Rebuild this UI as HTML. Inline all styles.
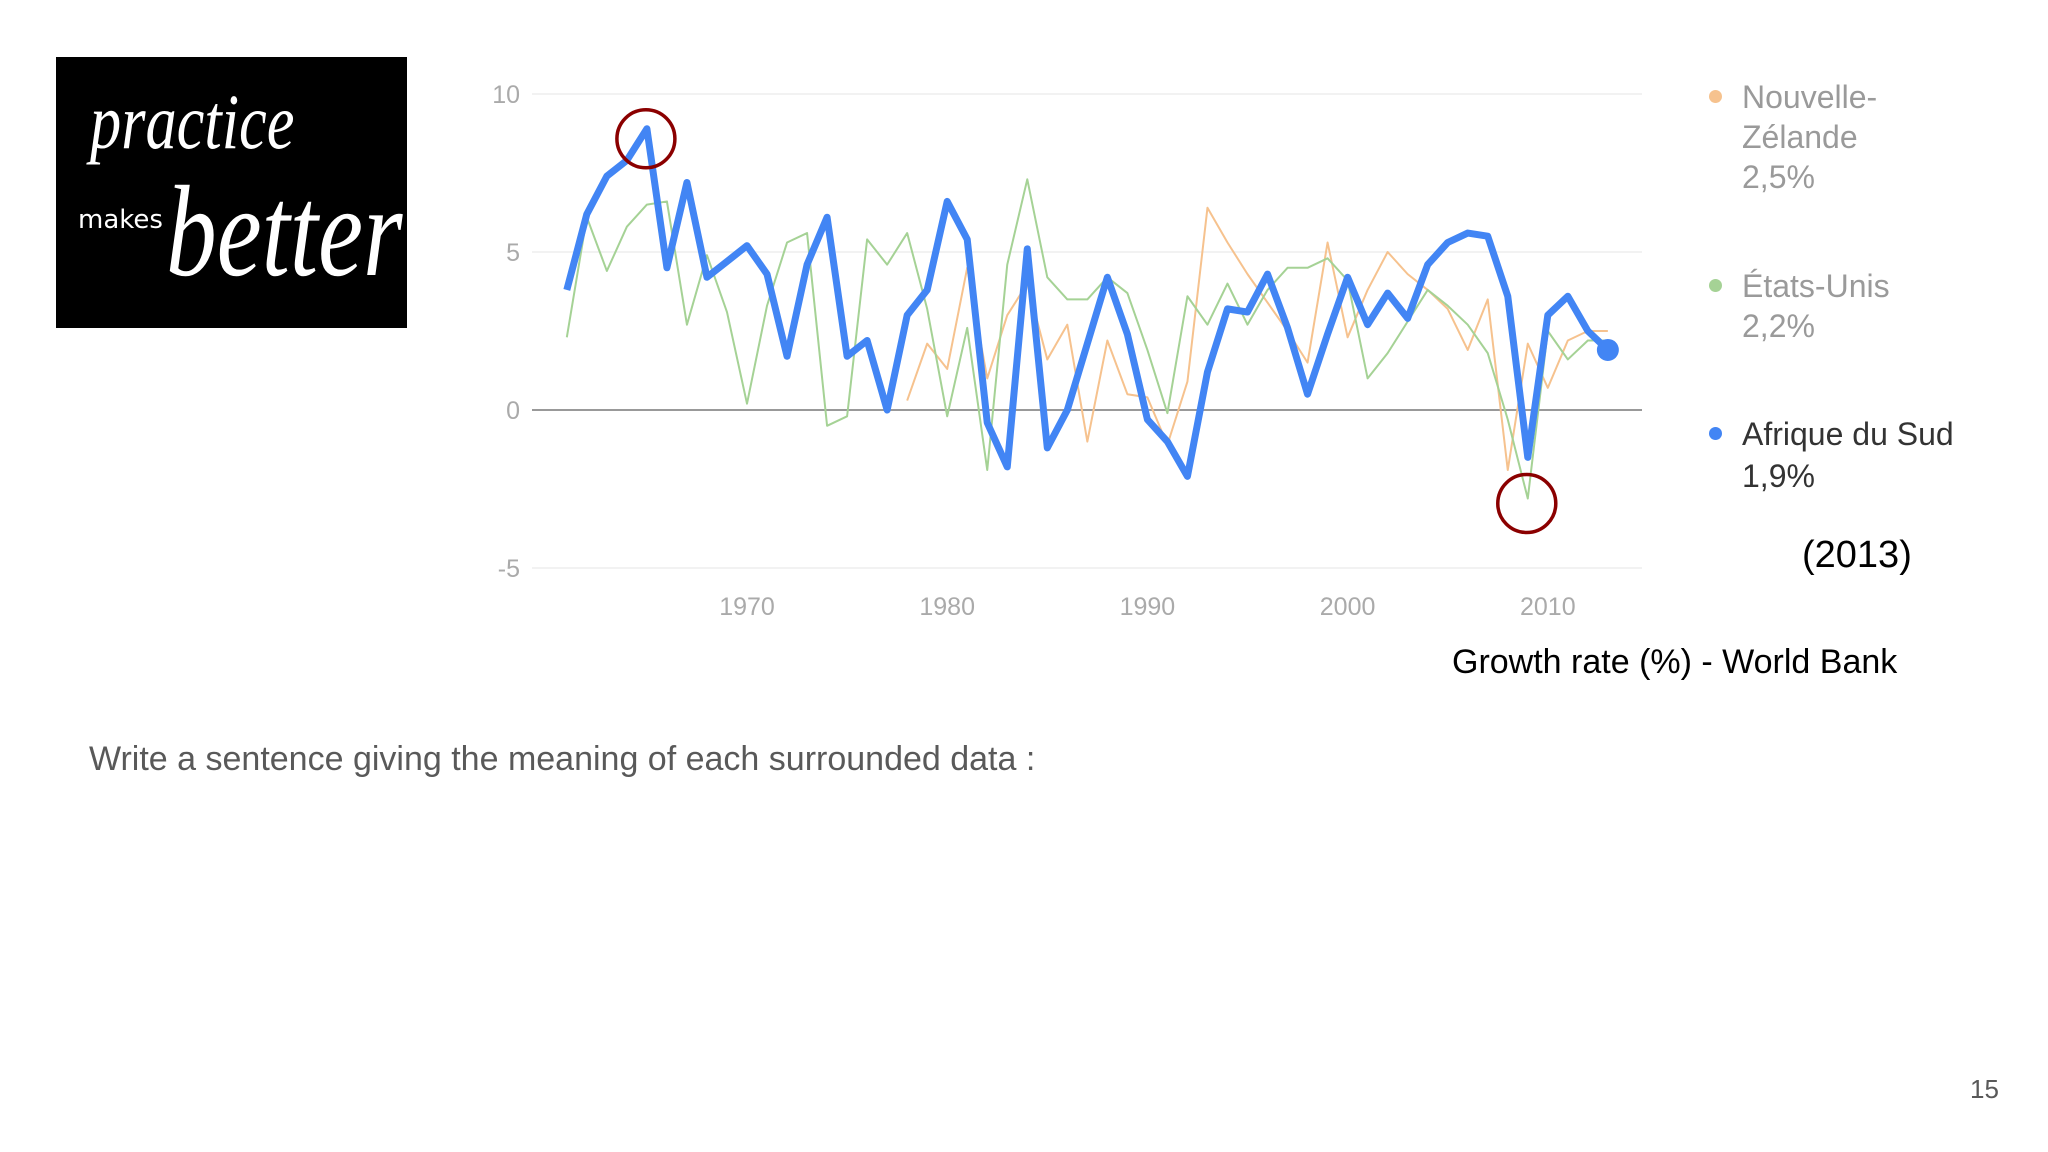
<!DOCTYPE html>
<html><head><meta charset="utf-8"><style>
body{margin:0;width:2048px;height:1152px;background:#fff;position:relative;overflow:hidden;font-family:"Liberation Sans",sans-serif}
.abs{position:absolute;white-space:nowrap}
</style></head><body>
<div class="abs" style="left:56px;top:57px;width:351px;height:271px;background:#000">
 <div class="abs" style="left:34px;top:20px;color:#fff;font:italic 78px 'Liberation Serif',serif;transform:scaleX(0.8);transform-origin:left">practice</div>
 <div class="abs" style="left:22px;top:148px;color:#fff;font:26px 'DejaVu Sans',sans-serif">makes</div>
 <div class="abs" style="left:110px;top:100px;color:#fff;font:italic 130px 'Liberation Serif',serif;transform:scaleX(0.78);transform-origin:left">better</div>
</div>
<svg class="abs" style="left:0;top:0" width="2048" height="1152" id="chart"></svg>
<div class="abs" style="left:1742px;top:77px;font-size:32px;line-height:40px;color:#9a9a9a">Nouvelle-<br>Zélande<br>2,5%</div>
<div class="abs" style="left:1742px;top:266px;font-size:32px;line-height:40px;color:#9a9a9a">États-Unis<br>2,2%</div>
<div class="abs" style="left:1742px;top:413px;font-size:32px;line-height:42px;color:#333">Afrique du Sud<br>1,9%</div>
<div class="abs" style="left:1709px;top:90px;width:13px;height:13px;border-radius:50%;background:#f6c28e"></div>
<div class="abs" style="left:1709px;top:279px;width:13px;height:13px;border-radius:50%;background:#a5d295"></div>
<div class="abs" style="left:1709px;top:427px;width:13px;height:13px;border-radius:50%;background:#4285f4"></div>
<div class="abs" style="left:1802px;top:534px;font-size:38px;color:#000">(2013)</div>
<div class="abs" style="left:1452px;top:643px;font-size:34px;color:#000">Growth rate (%) - World Bank</div>
<div class="abs" style="left:89px;top:740px;font-size:34px;color:#595959">Write a sentence giving the meaning of each surrounded data :</div>
<div class="abs" style="left:1970px;top:1074px;font-size:26px;color:#595959">15</div>
<script>
const years=[];for(let y=1961;y<=2013;y++)years.push(y);
const southAfrica=[3.8,6.2,7.4,7.9,8.9,4.5,7.2,4.2,4.7,5.2,4.3,1.7,4.6,6.1,1.7,2.2,0.0,3.0,3.8,6.6,5.4,-0.4,-1.8,5.1,-1.2,0.0,2.1,4.2,2.4,-0.3,-1.0,-2.1,1.2,3.2,3.1,4.3,2.6,0.5,2.4,4.2,2.7,3.7,2.9,4.6,5.3,5.6,5.5,3.6,-1.5,3.0,3.6,2.5,1.9];
const unitedStates=[2.3,6.1,4.4,5.8,6.5,6.6,2.7,4.9,3.1,0.2,3.3,5.3,5.6,-0.5,-0.2,5.4,4.6,5.6,3.2,-0.2,2.6,-1.9,4.6,7.3,4.2,3.5,3.5,4.2,3.7,1.9,-0.1,3.6,2.7,4.0,2.7,3.8,4.5,4.5,4.8,4.1,1.0,1.8,2.8,3.8,3.3,2.7,1.8,-0.3,-2.8,2.5,1.6,2.2,2.2];
const nzYears=[];for(let y=1978;y<=2013;y++)nzYears.push(y);
const newZealand=[0.3,2.1,1.3,4.5,1.0,3.0,4.0,1.6,2.7,-1.0,2.2,0.5,0.4,-1.1,0.9,6.4,5.3,4.3,3.4,2.5,1.5,5.3,2.3,3.8,5.0,4.3,3.8,3.2,1.9,3.5,-1.9,2.1,0.7,2.2,2.5,2.5];
const yTicks=[10,5,0,-5];
const xTicks=[1970,1980,1990,2000,2010];
const X=y=>747+(y-1970)*20.02;
const Y=v=>410-v*31.6;
const svg=document.getElementById('chart');const NS='http://www.w3.org/2000/svg';
function mk(t,a){const e=document.createElementNS(NS,t);for(const k in a)e.setAttribute(k,a[k]);svg.appendChild(e);return e;}
yTicks.forEach(v=>{
 const l=mk('line',{x1:532,x2:1642,y1:Y(v),y2:Y(v),stroke:v===0?'#999':'#eee','stroke-width':v===0?2:1.5});
 
 
 const t=mk('text',{x:520,y:Y(v)+9,'text-anchor':'end','font-size':25,fill:'#aaa','font-family':'Liberation Sans'});t.textContent=v;
 
 
});
xTicks.forEach(v=>{
 const t=mk('text',{x:X(v),y:615,'text-anchor':'middle','font-size':25,fill:'#aaa','font-family':'Liberation Sans'});t.textContent=v;
 
 
});
function line(xs,vals,color,w,name){
 const p=mk('polyline',{points:vals.map((v,i)=>X(xs[i])+','+Y(v)).join(' '),fill:'none',stroke:color,'stroke-width':w,'stroke-linejoin':'round'});
 
 
}
line(nzYears,newZealand,'#f6c28e',2,'line-nouvelle-zelande');
line(years,unitedStates,'#a5d295',2,'line-etats-unis');
line(years,southAfrica,'#4285f4',7,'line-afrique-du-sud');
const d=mk('circle',{cx:X(2013),cy:Y(southAfrica[southAfrica.length-1]),r:11,fill:'#4285f4'});


const c1=mk('circle',{cx:X(1965)-1,cy:Y(8.9)+10,r:29,fill:'none',stroke:'#8b0000','stroke-width':3.5});


const c2=mk('circle',{cx:X(2009)-1,cy:Y(-2.8)+5,r:29,fill:'none',stroke:'#8b0000','stroke-width':3.5});


</script>
</body></html>
